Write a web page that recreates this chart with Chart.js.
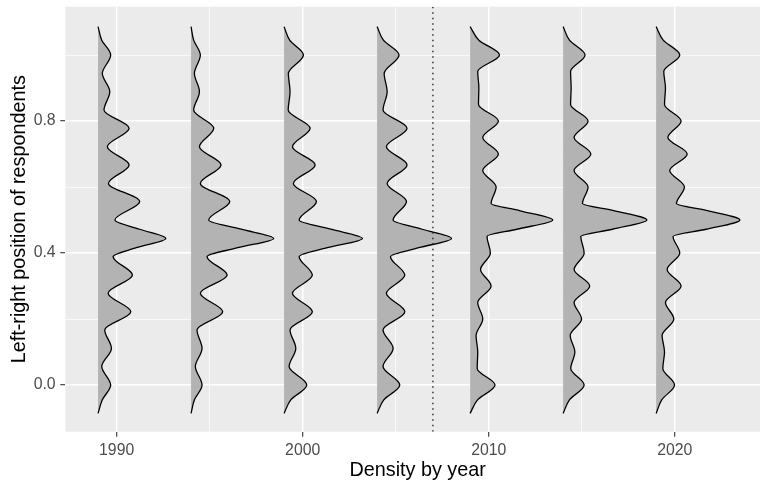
<!DOCTYPE html>
<html>
<head>
<meta charset="utf-8">
<script src="https://cdn.jsdelivr.net/npm/chart.js@4.4.1/dist/chart.umd.min.js"></script>
<style>
  html, body { margin: 0; padding: 0; overflow: hidden; background: #ffffff; }
  #wrap { width: 770px; height: 487px; position: relative; }
</style>
</head>
<body>
<div id="wrap"><canvas id="chart"></canvas></div>
<script>
// Survey waves: each density is drawn to the right of its year.
const surveyYears = [1989, 1994, 1999, 2004, 2009, 2014, 2019];

// Left-right positions (0 = left, 1 = right) where the density widths were taken.
// Early waves used a 10-point scale, later waves an 11-point scale.
const levelsTenPoint = [-0.086, -0.045, 0, 0.056, 0.111, 0.167, 0.222, 0.278, 0.333, 0.389, 0.416, 0.444, 0.472,
  0.5, 0.556, 0.611, 0.667, 0.722, 0.778, 0.833, 0.889, 0.944, 1.0, 1.045, 1.086];
const levelsElevenPoint = [-0.086, -0.045, 0, 0.05, 0.1, 0.15, 0.2, 0.25, 0.3, 0.35, 0.4, 0.45, 0.472, 0.5,
  0.528, 0.55, 0.6, 0.65, 0.7, 0.75, 0.8, 0.85, 0.9, 0.95, 1.0, 1.045, 1.086];

// Scaled density at each level (in year units along the x axis).
const density1989 = [0, 0.23, 0.68, 0.20, 0.72, 0.36, 1.76, 0.54, 1.85, 0.81, 2.06, 3.64, 2.24,
  0.91, 2.24, 0.56, 1.67, 0.50, 1.67, 0.32, 0.63, 0.23, 0.68, 0.20, 0];
const density1994 = [0, 0.18, 0.59, 0.23, 0.59, 0.32, 1.70, 0.50, 1.94, 0.86, 2.51, 4.44, 2.69,
  0.95, 2.08, 0.50, 1.61, 0.45, 1.22, 0.14, 0.45, 0.18, 0.50, 0.14, 0];
const density1999 = [0, 0.36, 1.22, 0.27, 0.63, 0.32, 1.52, 0.45, 1.52, 0.81, 2.33, 4.21, 2.51,
  0.81, 1.74, 0.50, 1.67, 0.45, 1.40, 0.22, 0.32, 0.23, 1.04, 0.30, 0];
const density2004 = [0, 0.36, 1.22, 0.32, 0.86, 0.32, 1.49, 0.50, 1.49, 0.72, 2.24, 4.00, 2.42,
  0.86, 1.58, 0.54, 1.61, 0.50, 1.61, 0.32, 0.54, 0.38, 1.18, 0.34, 0];
const density2009 = [0, 0.40, 1.34, 0.38, 0.41, 0.32, 0.68, 0.41, 1.13, 0.56, 1.09, 0.91, 2.51, 4.44,
  2.69, 1.13, 1.40, 0.68, 1.52, 0.68, 1.52, 0.45, 0.47, 0.41, 1.58, 0.47, 0];
const density2014 = [0, 0.34, 1.13, 0.41, 0.63, 0.38, 0.99, 0.59, 1.43, 0.59, 1.13, 0.95, 2.65, 4.50,
  2.78, 1.04, 1.34, 0.59, 1.49, 0.59, 1.34, 0.40, 0.43, 0.40, 1.18, 0.34, 0];
const density2019 = [0, 0.30, 0.99, 0.36, 0.45, 0.32, 0.95, 0.50, 1.34, 0.59, 1.27, 0.91, 2.69, 4.50,
  2.81, 1.09, 1.52, 0.73, 1.67, 0.63, 1.34, 0.45, 0.50, 0.41, 1.27, 0.38, 0];

const densities = [density1989, density1994, density1999, density2004, density2009, density2014, density2019];
const levelSets = [levelsTenPoint, levelsTenPoint, levelsTenPoint, levelsTenPoint,
  levelsElevenPoint, levelsElevenPoint, levelsElevenPoint];

// Scale change marker.
const breakYear = 2007;

const xTickLabels = ['1990', '2000', '2010', '2020'];
const yTickLabels = ['0.0', '0.4', '0.8'];
const xRange = [1987.24, 2025.12];
const yRange = [-0.1415, 1.1464];

const FONT = "'Liberation Sans', Arial, Helvetica, sans-serif";

const violinSets = surveyYears.map((year, k) => ({
  label: String(year),
  data: levelSets[k].map((lvl, i) => ({ x: year + densities[k][i], y: lvl })),
  borderColor: '#000000',
  borderWidth: 1.3,
  backgroundColor: '#B3B3B3',
  fill: { value: year },
  pointRadius: 0,
  cubicInterpolationMode: 'monotone',
  order: 1
}));

const breakLine = {
  label: 'break',
  data: [{ x: breakYear, y: yRange[0] }, { x: breakYear, y: yRange[1] }],
  borderColor: '#1a1a1a',
  borderWidth: 1.3,
  borderDash: [1.4, 4.1],
  fill: false,
  pointRadius: 0,
  order: 0
};

const panelBackground = {
  id: 'panelBackground',
  beforeDraw(chart) {
    const { ctx, chartArea: a } = chart;
    ctx.save();
    ctx.fillStyle = '#EBEBEB';
    ctx.fillRect(a.left, a.top, a.right - a.left, a.bottom - a.top);
    ctx.restore();
  }
};

const isMajor = (c) => !!(c.tick && c.tick.label);

const gridStyle = {
  color: '#FFFFFF',
  lineWidth: (c) => isMajor(c) ? 1.4 : 0.7,
  tickColor: (c) => isMajor(c) ? '#333333' : 'rgba(0,0,0,0)',
  tickWidth: 1.1,
  tickLength: 5,
  drawTicks: true
};

new Chart(document.getElementById('chart'), {
  type: 'line',
  data: { datasets: [breakLine, ...violinSets] },
  plugins: [panelBackground],
  options: {
    indexAxis: 'y',
    responsive: true,
    maintainAspectRatio: false,
    animation: false,
    layout: { padding: { top: 6.7, right: 0, bottom: 0, left: 0 } },
    plugins: { legend: { display: false }, tooltip: { enabled: false } },
    scales: {
      x: {
        type: 'linear',
        min: xRange[0],
        max: xRange[1],
        afterFit: (s) => { s.height = 55.3; s.paddingLeft = 0; s.paddingRight = 0; },
        border: { display: false },
        grid: gridStyle,
        ticks: {
          stepSize: 5,
          includeBounds: false,
          autoSkip: false,
          maxRotation: 0,
          padding: 4,
          color: '#4D4D4D',
          font: { family: FONT, size: 15.8 },
          callback: (v) => { const s = String(v); return xTickLabels.includes(s) ? s : ''; }
        },
        title: {
          display: true,
          text: 'Density by year',
          color: '#000000',
          font: { family: FONT, size: 19.8 },
          padding: { top: 0, bottom: 4.6 }
        }
      },
      y: {
        type: 'linear',
        min: yRange[0],
        max: yRange[1],
        afterFit: (s) => { s.width = 65.3; s.paddingTop = 0; s.paddingBottom = 0; },
        border: { display: false },
        grid: gridStyle,
        ticks: {
          stepSize: 0.2,
          includeBounds: false,
          autoSkip: false,
          padding: 4.7,
          color: '#4D4D4D',
          font: { family: FONT, size: 15.8 },
          callback: (v) => { const s = v.toFixed(1); return yTickLabels.includes(s) ? s : ''; }
        },
        title: {
          display: true,
          text: 'Left-right position of respondents',
          color: '#000000',
          font: { family: FONT, size: 19.8 },
          padding: { top: 7.4, bottom: 0 }
        }
      }
    }
  }
});
</script>
</body>
</html>
